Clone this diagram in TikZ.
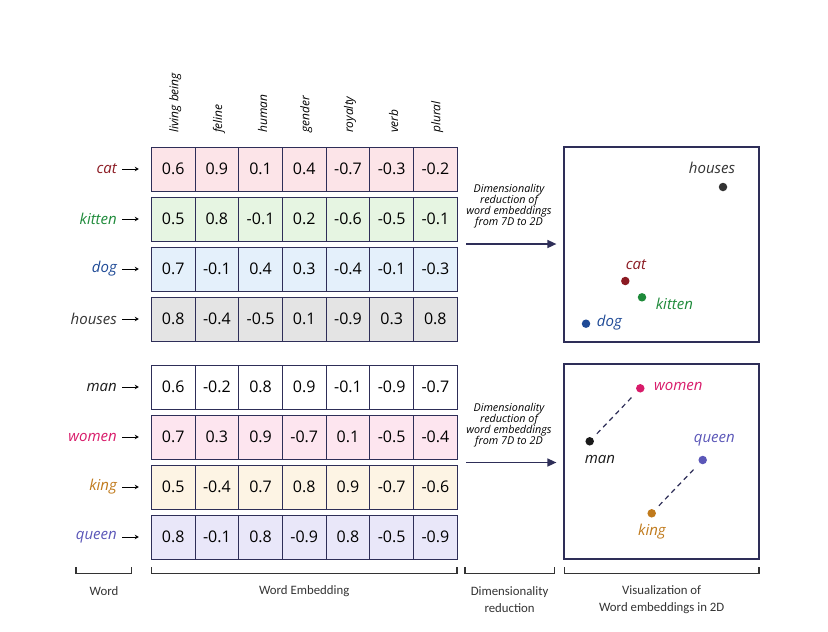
\documentclass[tikz,border=0pt]{standalone}
\usepackage{fontspec}
\setmainfont{Open Sans}
\newfontfamily\capfont{Carlito}
\usetikzlibrary{arrows.meta}

\definecolor{gridline}{HTML}{2E2E58}
\definecolor{cat}{HTML}{8B1A22}
\definecolor{kitten}{HTML}{1E8A3A}
\definecolor{dog}{HTML}{1F4A96}
\definecolor{houses}{HTML}{333333}
\definecolor{man}{HTML}{1A1A1A}
\definecolor{women}{HTML}{D81B6A}
\definecolor{king}{HTML}{C07A1C}
\definecolor{queen}{HTML}{5B57B8}
\definecolor{catbg}{HTML}{FCE4E8}
\definecolor{kittenbg}{HTML}{E6F5E2}
\definecolor{dogbg}{HTML}{E4F0FB}
\definecolor{housesbg}{HTML}{E4E4E4}
\definecolor{manbg}{HTML}{FFFFFF}
\definecolor{womenbg}{HTML}{FDE5EF}
\definecolor{kingbg}{HTML}{FDF4E4}
\definecolor{queenbg}{HTML}{E9E7F9}
\definecolor{captext}{HTML}{333333}

\begin{document}
\begin{tikzpicture}[>=stealth,x=1pt,y=-1pt,
	cell/.style={draw=gridline,line width=1pt,minimum width=43.7pt,minimum height=44pt,inner sep=0pt,font=\fontsize{16}{18}\selectfont},
	word/.style={anchor=east,inner sep=0pt,font=\fontsize{15}{18}\selectfont\itshape},
	feat/.style={rotate=90,anchor=west,inner sep=0pt,font=\fontsize{12}{14}\selectfont\itshape},
	dot/.style={circle,minimum size=8.5pt,inner sep=0pt},
	ptlabel/.style={inner sep=0pt,font=\fontsize{15}{18}\selectfont\itshape},
	vis/.style={draw=gridline,line width=1.2pt,minimum width=195pt,minimum height=195pt,inner sep=0pt},
	reduce/.style={-{Triangle[length=9pt,width=8pt]},line width=1.5pt,draw=gridline},
	reducetext/.style={align=center,inner sep=0pt,font=\fontsize{10.8}{11}\selectfont\itshape},
	pair/.style={draw=gridline,line width=1.2pt,dash pattern=on 5pt off 4pt,shorten <=6pt,shorten >=6pt},
	brace/.style={draw=captext,line width=1.2pt},
	caption/.style={align=center,inner sep=0pt,text=captext,font=\fontsize{12.8}{17}\selectfont\capfont}]
	\useasboundingbox (0,0) rectangle (828,632);
	%\draw[line width=0.2pt] (0,0) grid[step=50] (828,632);
	% feature names
	\foreach \f [count=\i] in {living being,feline,human,gender,royalty,verb,plural}
		\node[feat] (h\i) at ({151.3+43.7*(\i-0.5)+2},133) {\f};
	% embedding rows
	\foreach \wrd/\y/\vals in {cat/169/{0.6,0.9,0.1,0.4,-0.7,-0.3,-0.2},
			kitten/219/{0.5,0.8,-0.1,0.2,-0.6,-0.5,-0.1},
			dog/269/{0.7,-0.1,0.4,0.3,-0.4,-0.1,-0.3},
			houses/319/{0.8,-0.4,-0.5,0.1,-0.9,0.3,0.8},
			man/387/{0.6,-0.2,0.8,0.9,-0.1,-0.9,-0.7},
			women/437/{0.7,0.3,0.9,-0.7,0.1,-0.5,-0.4},
			king/487/{0.5,-0.4,0.7,0.8,0.9,-0.7,-0.6},
			queen/537/{0.8,-0.1,0.8,-0.9,0.8,-0.5,-0.9}}{
		\node[word,text=\wrd] (\wrd) at (117,\y) {\wrd};
		\foreach \v [count=\i] in \vals
			\node[cell,fill=\wrd bg] (\wrd-\i) at ({151.3+43.7*(\i-0.5)},\y) {\v};
		\draw[-{Stealth[length=4pt,width=4.5pt]},line width=1pt,shorten <=5pt,shorten >=12pt] (\wrd) -- (\wrd-1);
	}
	% reduction arrows
	\coordinate (g1) at (457.3,244);
	\coordinate (g2) at (457.3,462.5);
	\node[vis] (v1) at (661.5,244.5) {};
	\node[vis] (v2) at (661.5,461.5) {};
	\draw[reduce,shorten <=8.7pt,shorten >=7pt] (g1) -- (g1 -| v1.west);
	\draw[reduce,shorten <=8.7pt,shorten >=7pt] (g2) -- (g2 -| v2.west);
	\node[reducetext] (r1) at (509,206.5) {Dimensionality\\reduction of\\word embeddings\\from 7D to 2D};
	\node[reducetext] (r2) at (509,425.5) {Dimensionality\\reduction of\\word embeddings\\from 7D to 2D};
	% 2D points
	\node[dot,fill=houses] (phouses) at (723,187) {};
	\node[dot,fill=cat] (pcat) at (625.3,281) {};
	\node[dot,fill=kitten] (pkitten) at (642,297.3) {};
	\node[dot,fill=dog] (pdog) at (586,323.7) {};
	\node[ptlabel,text=houses] (lhouses) at (712,168) {houses};
	\node[ptlabel,text=cat] (lcat) at (636,264.5) {cat};
	\node[ptlabel,text=kitten,anchor=west] (lkitten) at (655.7,304) {kitten};
	\node[ptlabel,text=dog,anchor=west] (ldog) at (596.7,322.5) {dog};
	\node[dot,fill=women] (pwomen) at (640.3,388.3) {};
	\node[dot,fill=man] (pman) at (589.7,441.3) {};
	\node[dot,fill=queen] (pqueen) at (702.7,460) {};
	\node[dot,fill=king] (pking) at (651.7,513.3) {};
	\node[ptlabel,text=women,anchor=west] (lwomen) at (654,386.5) {women};
	\node[ptlabel,text=man] (lman) at (600,459.3) {man};
	\node[ptlabel,text=queen] (lqueen) at (714.3,440.5) {queen};
	\node[ptlabel,text=king] (lking) at (652,531.5) {king};
	\draw[pair] (pman) -- (pwomen);
	\draw[pair] (pking) -- (pqueen);
	% bottom captions
	\draw[brace] (76,567.3) -- (76,573.3) -- (131.3,573.3) -- (131.3,567.3);
	\draw[brace] (151.3,567.3) -- (151.3,573.3) -- (457,573.3) -- (457,567.3);
	\draw[brace] (465,567.3) -- (465,573.3) -- (554.3,573.3) -- (554.3,567.3);
	\draw[brace] (564.3,567.3) -- (564.3,573.3) -- (759,573.3) -- (759,567.3);
	\node[caption] (cword) at (104,591) {Word};
	\node[caption] (cemb) at (304.2,591) {Word Embedding};
	\node[caption] (cdim) at (509.6,599.5) {Dimensionality\\reduction};
	\node[caption] (cvis) at (661.7,599.5) {Visualization of\\Word embeddings in 2D};
\end{tikzpicture}
\end{document}
